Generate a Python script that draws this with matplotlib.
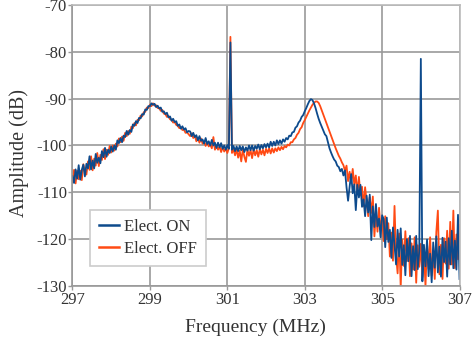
import numpy as np
import matplotlib
matplotlib.use("Agg")
import matplotlib.pyplot as plt

# Spectrum sampled every 0.04 MHz from 297 to 307 MHz
freq = np.linspace(297, 307, 251)

# Amplitude (dB), electrode ON
amp_on = [
    -106.5, -108.0, -105.1, -107.1, -104.2, -107.3, -105.2, -104.1, -106.6, -103.9,
    -104.9, -102.3, -105.1, -103.2, -104.9, -101.8, -103.7, -102.6, -103.8, -101.2,
    -102.5, -100.5, -102.4, -100.9, -101.6,
    -100.2, -101.3, -100.0, -100.9, -98.9, -99.5, -98.4, -99.3, -97.9, -98.2,
    -96.9, -97.7, -96.7, -97.1, -95.5, -95.8, -94.8, -95.2, -94.1, -94.2,
    -93.3, -93.4, -92.3, -92.4, -91.6,
    -91.6, -91.0, -91.3, -91.1, -91.8, -91.5, -92.1, -91.9, -92.8, -92.7,
    -93.3, -93.0, -94.0, -93.8, -94.7, -94.3, -95.0, -94.8, -95.8, -95.5,
    -96.4, -95.9, -96.6, -96.3, -97.2, -96.9,
    -97.0, -98.0, -97.3, -98.2, -97.8, -98.9, -98.0, -99.0, -98.7, -99.6,
    -98.4, -99.7, -99.1, -100.0, -98.8, -100.0, -99.4, -100.5, -99.4, -100.4,
    -99.5, -100.7, -100.0, -100.9, -99.9, -100.7,
    -78.0,
    -100.9, -100.1, -101.2, -100.2, -101.2, -100.1, -101.0, -100.2, -101.4, -100.4,
    -101.1, -100.0, -101.0, -100.0, -101.1, -100.1, -100.7, -99.8, -100.8, -99.9,
    -100.6, -99.7, -100.4,
    -99.6, -100.4, -99.2, -100.1, -99.2, -100.0, -98.9, -99.7, -98.9, -99.6,
    -98.7, -99.2, -98.4, -98.7, -97.9, -98.0, -97.2, -97.1, -96.2, -95.9,
    -95.1, -94.7, -93.9, -93.5, -92.7,
    -92.0, -91.2, -90.5, -90.1, -90.3, -91.0, -92.0, -93.2, -94.3, -95.2,
    -96.0, -96.8, -97.6, -98.0, -99.3, -100.6, -101.5, -102.3, -103.0, -103.4,
    -104.3, -104.6, -105.5, -105.0, -106.4,
    -105.3, -108.9, -111.8, -108.8, -106.1, -110.2, -108.3, -113.8, -108.4, -111.1,
    -108.4, -113.1, -111.5, -115.1, -110.7, -114.3, -110.5, -120.2, -113.0, -117.4,
    -112.5, -117.3, -115.6, -119.6, -114.9,
    -115.7, -121.7, -115.4, -120.6, -118.0, -124.0, -117.5, -121.3, -125.4, -118.0,
    -123.7, -117.7, -125.5, -121.3, -127.7, -120.0, -124.7, -119.3, -127.9, -121.5,
    -126.6, -119.3, -126.4, -122.5,
    -81.5,
    -129.0, -121.2, -125.8, -120.1, -127.9, -123.1, -129.2, -120.7, -126.1, -119.4,
    -127.1, -121.6, -128.0, -119.7, -124.9, -120.5, -128.0, -119.8, -125.4, -118.2,
    -126.2, -120.3, -126.5, -114.8, -128.5,
]

# Amplitude (dB), electrode OFF
amp_off = [
    -107.8, -105.2, -108.1, -105.4, -107.2, -105.4, -107.4, -104.0, -105.5, -106.2,
    -103.4, -105.2, -102.3, -105.3, -102.8, -104.3, -101.6, -104.4, -102.0, -103.1,
    -100.8, -102.9, -100.9, -102.0, -100.1,
    -101.5, -100.0, -101.1, -99.6, -100.2, -98.5, -99.3, -98.1, -99.0, -97.3,
    -98.0, -96.9, -97.5, -96.0, -96.3, -95.2, -95.7, -94.5, -94.6, -93.6,
    -93.8, -92.9, -92.8, -91.9, -92.0,
    -91.3, -91.6, -91.0, -91.5, -91.4, -92.0, -92.0, -92.6, -92.4, -93.2,
    -93.3, -93.9, -93.7, -94.4, -94.5, -95.1, -95.0, -95.6, -95.8, -96.3,
    -96.1, -96.7, -96.6, -97.3, -97.2, -97.6,
    -98.0, -97.4, -98.4, -97.9, -99.1, -98.4, -99.4, -98.5, -99.6, -99.1,
    -100.1, -99.3, -100.2, -99.8, -100.6, -98.2, -100.9, -100.1, -100.9, -100.2,
    -101.4, -100.3, -101.3, -100.6, -101.6, -100.6,
    -76.8,
    -101.6, -100.8, -102.1, -100.8, -102.6, -101.1, -103.4, -100.8, -102.4, -103.5,
    -100.9, -102.2, -101.0, -102.7, -100.8, -102.1, -101.0, -102.4, -100.8, -101.9,
    -100.9, -102.1, -100.7,
    -101.6, -100.6, -101.7, -100.6, -101.5, -100.6, -101.2, -100.4, -101.0, -100.3,
    -100.8, -100.1, -100.4, -99.8, -100.0, -99.3, -99.3, -98.7, -98.4, -97.7,
    -97.3, -96.5, -96.1, -95.2, -94.6,
    -93.9, -93.2, -92.5, -91.9, -91.3, -90.9, -90.6, -90.6, -90.9, -91.6,
    -92.5, -93.4, -94.3, -95.2, -96.1, -97.0, -97.9, -98.8, -99.7, -100.6,
    -101.4, -102.2, -102.8, -103.6, -104.2,
    -105.4, -104.3, -107.6, -105.6, -108.0, -105.0, -108.3, -106.4, -110.2, -106.7,
    -110.7, -108.8, -113.0, -108.9, -112.1, -115.1, -111.0, -114.4, -110.9, -119.4,
    -114.4, -118.4, -113.3, -117.8, -115.6,
    -120.4, -115.1, -120.0, -116.6, -123.7, -118.6, -124.6, -112.9, -123.5, -127.3,
    -118.8, -130.3, -120.1, -125.7, -118.3, -124.7, -119.8, -127.9, -120.9, -126.5,
    -119.6, -129.3, -121.3, -125.9, -121.0, -128.1, -122.2, -130.1, -120.9, -126.4,
    -119.6, -127.8, -122.8, -128.5, -118.5, -113.9, -127.5, -121.2, -128.5, -119.8,
    -125.2, -118.2, -126.3, -116.3, -125.4, -113.9, -126.2, -119.0, -124.3, -117.0,
]

x_ticks = [297, 299, 301, 303, 305, 307]
y_ticks = [-130, -120, -110, -100, -90, -80, -70]

plt.rcParams["font.family"] = ["Liberation Serif", "DejaVu Serif"]
plt.rcParams["axes.unicode_minus"] = False

fig = plt.figure(figsize=(4.72, 3.47), dpi=100)
ax = fig.add_axes([0.1536, 0.1758, 0.82, 0.8098])

line_off, = ax.plot(freq, amp_off, color="#ff4a14", lw=1.3, label="Elect. OFF")
line_on, = ax.plot(freq, amp_on, color="#0d4a8c", lw=1.3, label="Elect. ON")

ax.set_xlim(297, 307)
ax.set_ylim(-130, -70)
ax.set_xticks(x_ticks)
ax.set_yticks(y_ticks)
ax.set_xticklabels([str(t) for t in x_ticks])
ax.set_yticklabels([str(t) for t in y_ticks])
ax.tick_params(labelsize=12, length=3, width=1, color="#999999",
               labelcolor="#333333", pad=1)

ax.grid(True, color="#999999", lw=1.2)
ax.set_axisbelow(True)
for side in ["left", "bottom"]:
    ax.spines[side].set_color("#999999")
    ax.spines[side].set_linewidth(1.2)
for side in ["top", "right"]:
    ax.spines[side].set_color("#bbbbbb")
    ax.spines[side].set_linewidth(1.2)

ax.set_xlabel("Frequency (MHz)", fontsize=14, color="#333333")
ax.set_ylabel("Amplitude (dB)", fontsize=14.5, color="#333333")
ax.xaxis.set_label_coords(0.4716, -0.118)
ax.yaxis.set_label_coords(-0.112, 0.475)

leg = ax.legend([line_on, line_off], ["Elect. ON", "Elect. OFF"],
                loc="lower left", bbox_to_anchor=(0.045, 0.072),
                borderaxespad=0, fontsize=12, fancybox=False, framealpha=1,
                edgecolor="#cccccc", handlelength=1.2, handletextpad=0.3,
                labelspacing=0.35, borderpad=0.55)
leg.get_frame().set_linewidth(1.2)
for t in leg.get_texts():
    t.set_color("#333333")
for h in leg.get_lines():
    h.set_linewidth(1.8)

fig.savefig("out.png", dpi=100)
